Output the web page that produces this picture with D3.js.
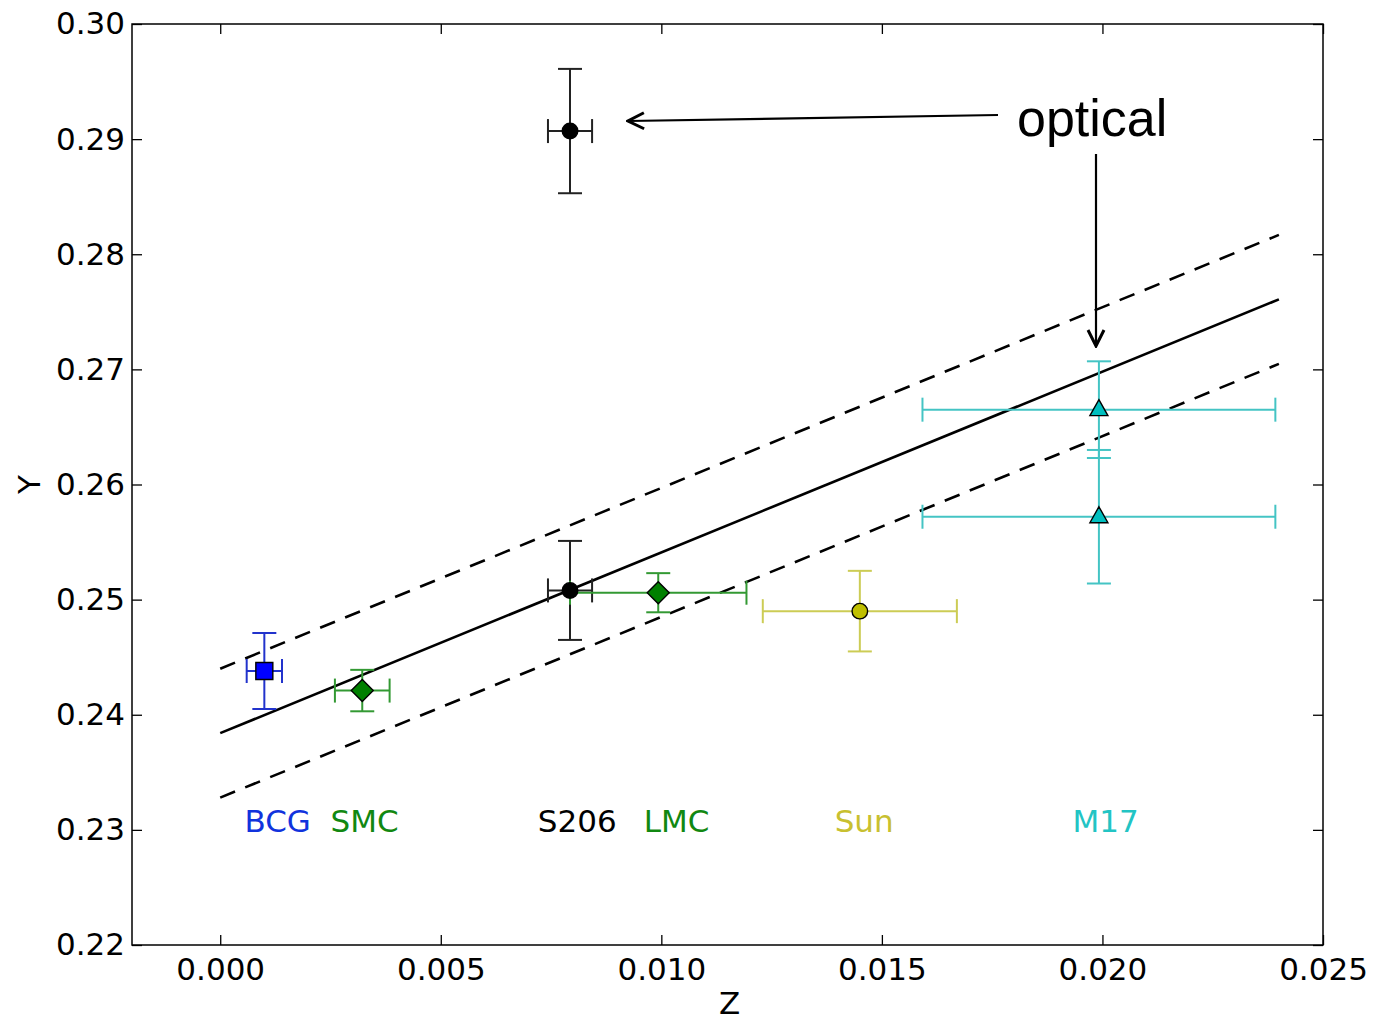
<!DOCTYPE html>
<html lang="en">
<head>
<meta charset="UTF-8">
<script src="https://d3js.org/d3.v7.min.js"></script>
<title>Y vs Z</title>
<style>
  body { margin: 0; background: #fff; }
  text { font-family: "DejaVu Sans", sans-serif; }
</style>
<script>
// measured points
var pointName  = ["BCG", "SMC", "S206", "S206", "LMC", "Sun", "M17", "M17"];
var pointZ     = [0.0010, 0.00322, 0.00793, 0.00793, 0.00993, 0.0145, 0.01992, 0.01992];
var pointY     = [0.2438, 0.2421, 0.2508, 0.2907, 0.2506, 0.2490, 0.2665, 0.2572];
var zErr       = [0.0004, 0.00062, 0.0005, 0.0005, 0.0020, 0.0022, 0.0040, 0.0040];
var yErr       = [0.0033, 0.0018, 0.0043, 0.0054, 0.0017, 0.0035, 0.0042, 0.0058];
var pointShape = ["square", "diamond", "circle", "circle", "diamond", "circle", "triangle", "triangle"];

// label text under the points
var labelText = ["BCG", "SMC", "S206", "LMC", "Sun", "M17"];
var labelZ    = [0.00055, 0.00250, 0.00720, 0.00960, 0.01393, 0.01932];
var labelY    = 0.2298;

// fit line and band
var fitZ = [0.0, 0.024];
var fitIntercept = 0.2384, fitSlope = 1.57, fitBand = 0.0056;

var xTicks = [0.000, 0.005, 0.010, 0.015, 0.020, 0.025];
var yTicks = [0.22, 0.23, 0.24, 0.25, 0.26, 0.27, 0.28, 0.29, 0.30];

var colorOf = {BCG: "#0000ff", SMC: "#008000", S206: "#000000", LMC: "#008000", Sun: "#bfbf00", M17: "#00bfbf"};
var barColorOf = {BCG: "#2233cc", SMC: "#339933", S206: "#222222", LMC: "#339933", Sun: "#cccc55", M17: "#44c4c4"};
var textColorOf = {BCG: "#1133dd", SMC: "#118811", S206: "#000000", LMC: "#118811", Sun: "#c8c030", M17: "#22c4c4"};

function markerPath(shape){
  if (shape === "diamond") return "M0,-11L11,0L0,11L-11,0Z";
  if (shape === "square") return "M-8.5,-8.5H8.5V8.5H-8.5Z";
  if (shape === "triangle") return "M0,-10L9,6L-9,6Z";
  return d3.symbol().type(d3.symbolCircle).size(190)();
}

function main(){
  var svg = d3.select("svg");
  var left = 132, right = 1323, top = 24, bottom = 945;

  var x = d3.scaleLinear().domain([-0.002, 0.025]).range([left, right]);
  var y = d3.scaleLinear().domain([0.22, 0.30]).range([bottom, top]);

  var g = svg.append("g");

  // axes with inward ticks
  var tickLen = 10;
  g.append("g").attr("transform", "translate(0," + bottom + ")")
    .call(d3.axisBottom(x).tickValues(xTicks).tickSizeInner(-tickLen).tickSizeOuter(0).tickPadding(13).tickFormat(d3.format(".3f")));
  g.append("g").attr("transform", "translate(0," + top + ")")
    .call(d3.axisTop(x).tickValues(xTicks).tickSizeInner(-tickLen).tickSizeOuter(0).tickFormat(""));
  g.append("g").attr("transform", "translate(" + left + ",0)")
    .call(d3.axisLeft(y).tickValues(yTicks).tickSizeInner(-tickLen).tickSizeOuter(0).tickPadding(7).tickFormat(d3.format(".2f")));
  g.append("g").attr("transform", "translate(" + right + ",0)")
    .call(d3.axisRight(y).tickValues(yTicks).tickSizeInner(-tickLen).tickSizeOuter(0).tickFormat(""));
  g.selectAll(".domain").remove();
  g.selectAll(".tick line").attr("stroke", "#000").attr("stroke-width", 1.3);
  g.selectAll(".tick text").attr("font-size", 31).attr("fill", "#000");

  g.append("rect").attr("x", left).attr("y", top)
    .attr("width", right - left).attr("height", bottom - top)
    .attr("fill", "none").attr("stroke", "#000").attr("stroke-width", 1.5);

  // axis titles
  svg.append("text").attr("x", (left + right) / 2 + 2).attr("y", 1014)
    .attr("text-anchor", "middle").attr("font-size", 31).text("Z");
  svg.append("text").attr("transform", "translate(40," + ((top + bottom) / 2) + ") rotate(-90)")
    .attr("text-anchor", "middle").attr("font-size", 31).text("Y");

  // fit lines
  var line = d3.line().x(function(d){ return x(d[0]); }).y(function(d){ return y(d[1]); });
  [0, fitBand, -fitBand].forEach(function(off){
    var pts = fitZ.map(function(z){ return [z, fitIntercept + off + fitSlope * z]; });
    g.append("path").attr("d", line(pts)).attr("fill", "none")
      .attr("stroke", "#000").attr("stroke-width", 2.6)
      .attr("stroke-dasharray", off === 0 ? null : "16,11");
  });

  // error bars
  var capH = 12;
  pointZ.forEach(function(z, i){
    var c = barColorOf[pointName[i]];
    var eb = g.append("g").attr("stroke", c).attr("stroke-width", 2);
    var x0 = x(z - zErr[i]), x1 = x(z + zErr[i]);
    var y0 = y(pointY[i] - yErr[i]), y1 = y(pointY[i] + yErr[i]);
    var cx = x(z), cy = y(pointY[i]);
    eb.append("line").attr("x1", x0).attr("x2", x1).attr("y1", cy).attr("y2", cy);
    eb.append("line").attr("x1", cx).attr("x2", cx).attr("y1", y0).attr("y2", y1);
    [x0, x1].forEach(function(xx){
      eb.append("line").attr("x1", xx).attr("x2", xx).attr("y1", cy - capH).attr("y2", cy + capH);
    });
    [y0, y1].forEach(function(yy){
      eb.append("line").attr("x1", cx - capH).attr("x2", cx + capH).attr("y1", yy).attr("y2", yy);
    });
  });

  // markers
  g.selectAll(".pt").data(pointZ).enter().append("path")
    .attr("class", "pt")
    .attr("transform", function(d, i){ return "translate(" + x(d) + "," + y(pointY[i]) + ")"; })
    .attr("d", function(d, i){ return markerPath(pointShape[i]); })
    .attr("fill", function(d, i){ return colorOf[pointName[i]]; })
    .attr("stroke", "#000").attr("stroke-width", 1.4);

  // labels
  g.selectAll(".lab").data(labelText).enter().append("text")
    .attr("class", "lab")
    .attr("x", function(d, i){ return x(labelZ[i]); })
    .attr("y", y(labelY))
    .attr("font-size", 31)
    .attr("fill", function(d){ return textColorOf[d]; })
    .text(function(d){ return d; });

  // annotation
  svg.append("defs").append("marker").attr("id", "head")
    .attr("viewBox", "0 0 20 20").attr("refX", 18).attr("refY", 10)
    .attr("markerWidth", 20).attr("markerHeight", 20).attr("markerUnits", "userSpaceOnUse")
    .attr("orient", "auto")
    .append("path").attr("d", "M2,2 L18,10 L2,18").attr("fill", "none")
    .attr("stroke", "#000").attr("stroke-width", 3);
  svg.append("line").attr("x1", 998).attr("y1", 115).attr("x2", 628).attr("y2", 121)
    .attr("stroke", "#000").attr("stroke-width", 2.2).attr("marker-end", "url(#head)");
  svg.append("line").attr("x1", 1096).attr("y1", 154).attr("x2", 1096).attr("y2", 346)
    .attr("stroke", "#000").attr("stroke-width", 2.2).attr("marker-end", "url(#head)");
  svg.append("text").attr("x", 1017).attr("y", 136)
    .style("font-family", "'Liberation Sans', Arial, sans-serif").attr("font-size", 52)
    .text("optical");
}
</script>
</head>
<body onload="main();">
<svg width="1379" height="1020"></svg>
</body>
</html>
